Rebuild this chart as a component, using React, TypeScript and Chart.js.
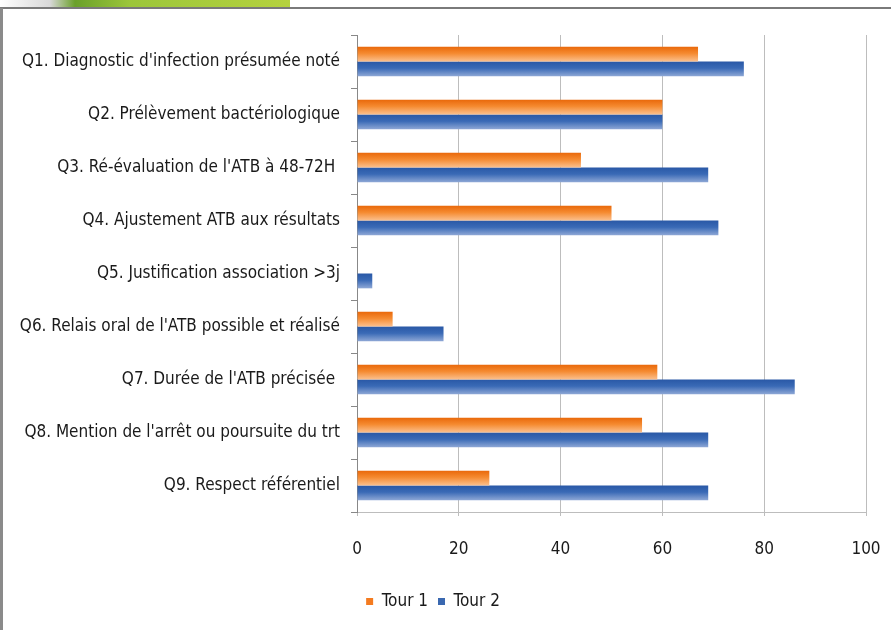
import React, { useEffect, useRef } from "react";
import { Chart, registerables } from "chart.js";

Chart.register(...registerables);

const categories = [
  "Q1. Diagnostic d'infection présumée noté",
  "Q2. Prélèvement bactériologique",
  "Q3. Ré-évaluation de l'ATB à 48-72H ",
  "Q4. Ajustement ATB aux résultats",
  "Q5. Justification association >3j",
  "Q6. Relais oral de l'ATB possible et réalisé",
  "Q7. Durée de l'ATB précisée ",
  "Q8. Mention de l'arrêt ou poursuite du trt",
  "Q9. Respect référentiel",
];
const tour1 = [67, 60, 44, 50, 0, 7, 59, 56, 26];
const tour2 = [76, 60, 69, 71, 3, 17, 86, 69, 69];
const xTicks = [0, 20, 40, 60, 80, 100];

const FONT = "'Liberation Sans Narrow', 'DejaVu Sans Condensed', sans-serif";

const gradientPlugin = {
  id: "barGradient",
  beforeDatasetsDraw(chart: any) {
    const ctx = chart.ctx;
    chart.data.datasets.forEach((ds: any, di: number) => {
      const meta = chart.getDatasetMeta(di);
      meta.data.forEach((el: any) => {
        const top = el.y - el.height / 2;
        const bot = el.y + el.height / 2;
        const g = ctx.createLinearGradient(0, top, 0, bot);
        if (di === 0) {
          g.addColorStop(0, "#E9680A");
          g.addColorStop(0.45, "#F58A30");
          g.addColorStop(1, "#FBC08E");
        } else {
          g.addColorStop(0, "#2958A6");
          g.addColorStop(0.45, "#3A6AB6");
          g.addColorStop(1, "#8FA8D6");
        }
        el.options = Object.assign(Object.create(Object.getPrototypeOf(el.options)), el.options, {
          backgroundColor: g,
        });
      });
    });
  },
};

export default function App() {
  const ref = useRef<HTMLCanvasElement>(null);
  useEffect(() => {
    if (!ref.current) return;
    const chart = new Chart(ref.current, {
      type: "bar",
      data: {
        labels: categories,
        datasets: [
          {
            label: "Tour 1",
            data: tour1,
            backgroundColor: () => "#F47B20",
            borderWidth: 0,
          },
          {
            label: "Tour 2",
            data: tour2,
            backgroundColor: () => "#3A68B0",
            borderWidth: 0,
          },
        ],
      },
      options: {
        indexAxis: "y",
        responsive: false,
        animation: false,
        maintainAspectRatio: false,
        layout: { padding: { top: 35, right: 25, left: 0, bottom: 10 } },
        datasets: {
          bar: { categoryPercentage: 0.56, barPercentage: 1 },
        },
        plugins: {
          tooltip: { enabled: false },
          legend: {
            position: "bottom",
            labels: {
              boxWidth: 7,
              boxHeight: 7,
              padding: 10,
              color: "#1a1a1a",
              font: { family: FONT, size: 17 },
              generateLabels: (chart: any) =>
                chart.data.datasets.map((ds: any, i: number) => ({
                  text: ds.label,
                  fillStyle: i === 0 ? "#F47B20" : "#3A68B0",
                  strokeStyle: "transparent",
                  lineWidth: 0,
                  hidden: false,
                  datasetIndex: i,
                  fontColor: "#1a1a1a",
                })),
            },
          },
        },
        scales: {
          x: {
            min: 0,
            max: 100,
            afterBuildTicks(scale: any) {
              scale.ticks = xTicks.map((v) => ({ value: v }));
            },
            afterFit(scale: any) {
              scale.height = 71;
              scale.paddingLeft = 0;
              scale.paddingRight = 0;
            },
            grid: {
              color: "#BDBDBD",
              lineWidth: 1,
              tickLength: 4,
            },
            border: { display: true, color: "#BDBDBD" },
            ticks: {
              color: "#1a1a1a",
              padding: 23,
              font: { family: FONT, size: 17 },
            },
          },
          y: {
            afterFit(scale: any) {
              scale.width = 357;
            },
            grid: {
              drawOnChartArea: false,
              drawTicks: true,
              tickLength: 6,
              color: "#888",
            },
            border: { display: true, color: "#888" },
            ticks: {
              color: "#1a1a1a",
              padding: 11,
              font: { family: FONT, size: 17 },
            },
          },
        },
      },
      plugins: [gradientPlugin],
    } as any);
    return () => chart.destroy();
  }, []);

  return (
    <div
      style={{
        position: "absolute",
        left: 0,
        top: 0,
        width: 891,
        height: 630,
        background: "#FFFFFF",
        overflow: "hidden",
      }}
    >
      <div
        style={{
          position: "absolute",
          left: 0,
          top: 0,
          width: 290,
          height: 7,
          background: "linear-gradient(to right, #ffffff 0px, #d8d8d8 50px, #6aa02a 75px, #9cc63a 130px, #b5d23e 290px)",
        }}
      />
      <div
        style={{
          position: "absolute",
          left: 0,
          top: 7,
          width: 891,
          height: 2,
          background: "#7a7a7a",
        }}
      />
      <div
        style={{
          position: "absolute",
          left: 0,
          top: 8,
          width: 3,
          height: 622,
          background: "#8a8a8a",
        }}
      />
      <canvas
        ref={ref}
        width={891}
        height={630}
        style={{ position: "absolute", left: 0, top: 0, display: "block" }}
      />
    </div>
  );
}
